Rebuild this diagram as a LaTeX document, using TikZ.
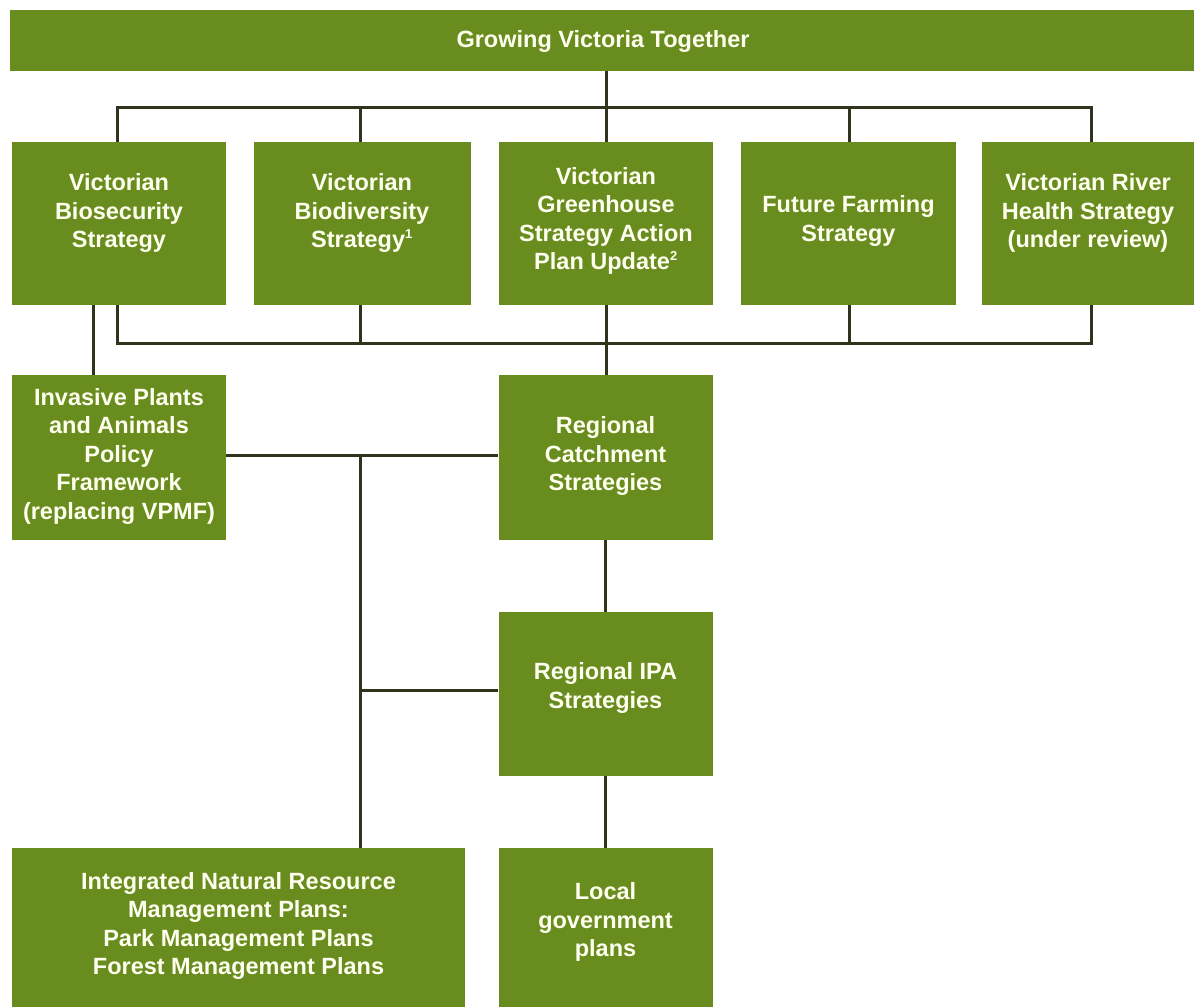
\documentclass[tikz,border=0pt]{standalone}
\usepackage{fontspec}
\newfontfamily\dfont{Liberation Sans}
\definecolor{boxgreen}{RGB}{104,140,30}
\definecolor{txtcol}{RGB}{255,255,240}
\definecolor{linecol}{RGB}{48,52,28}
\newcommand{\supmark}[1]{\textsuperscript{\fontsize{13}{13}\selectfont #1}}
\begin{document}
\begin{tikzpicture}[x=1pt,y=-1pt,
  gbox/.style={fill=boxgreen, draw=none, inner sep=0pt, rectangle},
  gtxt/.style={text=txtcol, align=center, inner sep=0pt, font=\dfont\bfseries\fontsize{23.5}{28.5}\selectfont},
  conn/.style={draw=linecol, line width=3pt}]
\useasboundingbox (0,0) rectangle (1194,1007);
\fill[white] (0,0) rectangle (1194,1007);

% boxes
\node[gbox, minimum width=1184, minimum height=61] (top) at (602,40.5) {};
\node[gbox, minimum width=214, minimum height=163] (b1) at (119,223.5) {};
\node[gbox, minimum width=217, minimum height=163] (b2) at (362.5,223.5) {};
\node[gbox, minimum width=214, minimum height=163] (b3) at (606,223.5) {};
\node[gbox, minimum width=215, minimum height=163] (b4) at (848.5,223.5) {};
\node[gbox, minimum width=212, minimum height=163] (b5) at (1088,223.5) {};
\node[gbox, minimum width=214, minimum height=165] (ipa) at (119,457.5) {};
\node[gbox, minimum width=214, minimum height=165] (rcs) at (605.5,457.5) {};
\node[gbox, minimum width=214, minimum height=164] (ripa) at (605.5,694) {};
\node[gbox, minimum width=453, minimum height=159] (inrmp) at (238.5,927.5) {};
\node[gbox, minimum width=214, minimum height=159] (local) at (605.5,927.5) {};

% texts
\node[gtxt] (ttop) at (603,41) {Growing Victoria Together};
\node[gtxt] (t1) at (119,213) {Victorian\\Biosecurity\\Strategy};
\node[gtxt] (t2) at (362,213) {Victorian\\Biodiversity\\Strategy\supmark{1}};
\node[gtxt] (t3) at (606,221) {Victorian\\Greenhouse\\Strategy Action\\Plan Update\supmark{2}};
\node[gtxt] (t4) at (848.5,221) {Future Farming\\Strategy};
\node[gtxt] (t5) at (1088,213) {Victorian River\\Health Strategy\\(under review)};
\node[gtxt] (tipa) at (119,456) {Invasive Plants\\and Animals\\Policy\\Framework\\(replacing VPMF)};
\node[gtxt] (trcs) at (605.5,456) {Regional\\Catchment\\Strategies};
\node[gtxt] (tripa) at (605.5,688) {Regional IPA\\Strategies};
\node[gtxt] (tinrmp) at (238.5,926) {Integrated Natural Resource\\Management Plans:\\Park Management Plans\\Forest Management Plans};
\node[gtxt] (tlocal) at (605.5,922) {Local\\government\\plans};

% connector guide coordinates
\coordinate (busA) at (606,107);
\coordinate (busB) at (606,343);
\coordinate (x1) at (117,0);
\coordinate (x2) at (360,0);
\coordinate (x4) at (849,0);
\coordinate (x5) at (1091,0);
\coordinate (x0) at (93,0);
\coordinate (j1) at (360,455);
\coordinate (j2) at (360,690);

% connectors
\draw[conn] (top.south -| busA) -- (busA);
\draw[conn] (b1.north -| x1) |- (busA) -| (b5.north -| x5);
\draw[conn] (b2.north -| x2) -- (busA -| x2);
\draw[conn] (b3.north) -- (b3.north |- busA);
\draw[conn] (b4.north -| x4) -- (busA -| x4);
\draw[conn] (b1.south -| x1) |- (busB) -| (b5.south -| x5);
\draw[conn] (b2.south -| x2) -- (busB -| x2);
\draw[conn] (b4.south -| x4) -- (busB -| x4);
\draw[conn] (b3.south) -- (b3.south |- rcs.north);
\draw[conn] (b1.south -| x0) -- (ipa.north -| x0);
\draw[conn] (ipa.east |- j1) -- (rcs.west |- j1);
\draw[conn] (j1) -- (j1 |- inrmp.north);
\draw[conn] (j2) -- (ripa.west |- j2);
\draw[conn] (rcs.south) -- (ripa.north);
\draw[conn] (ripa.south) -- (local.north);
\end{tikzpicture}
\end{document}
